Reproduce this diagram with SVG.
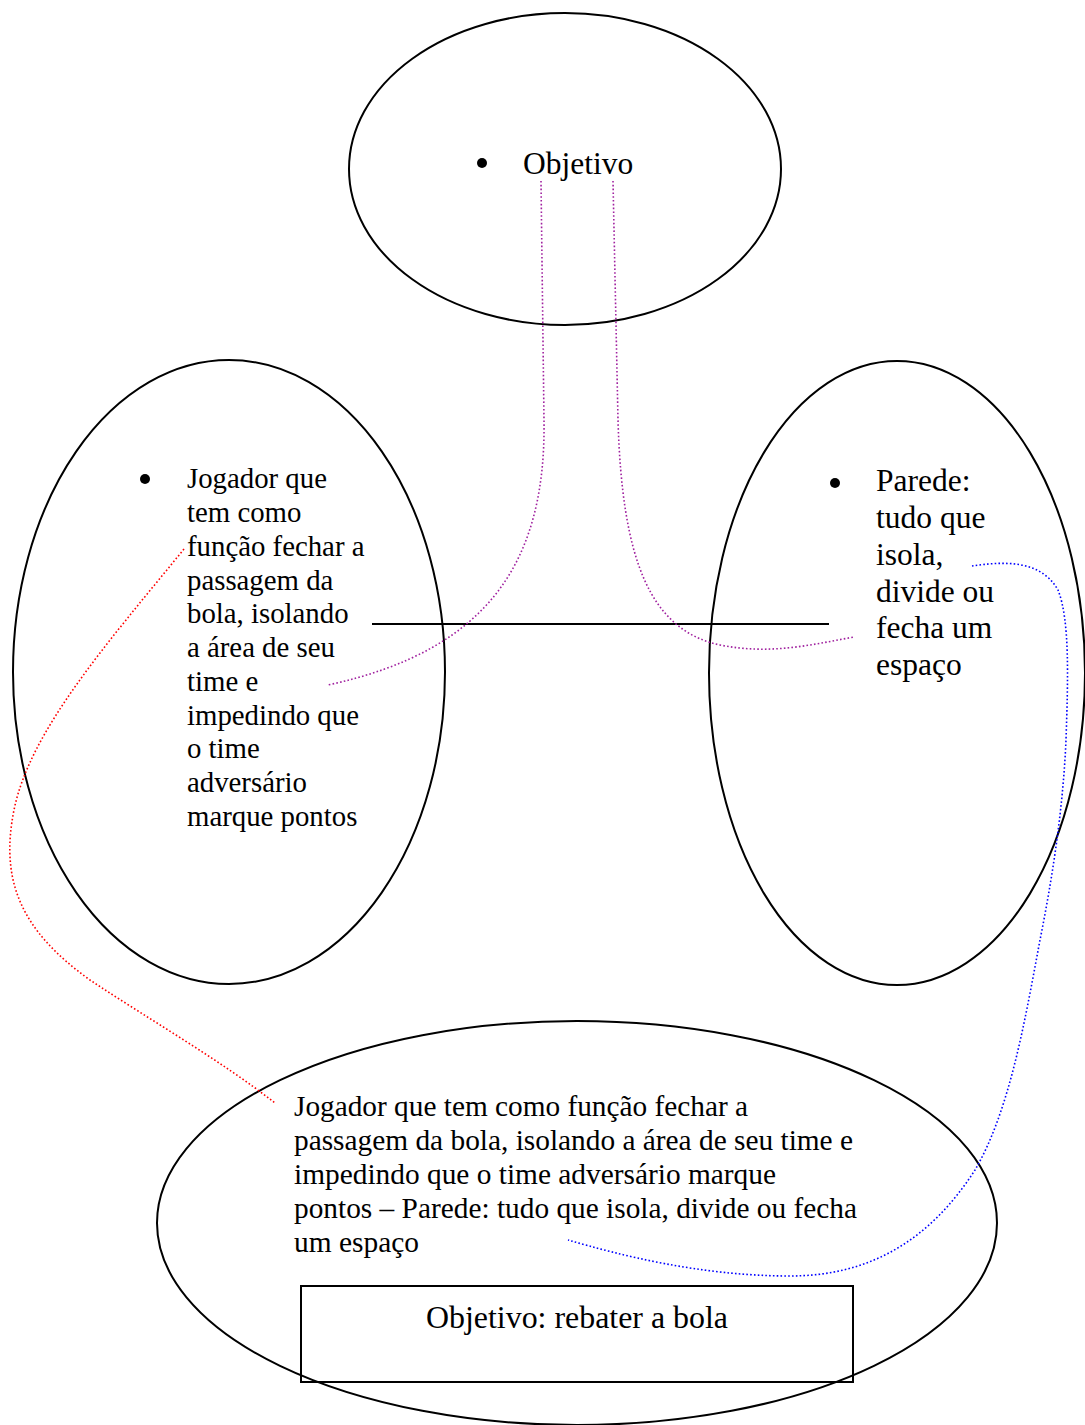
<svg xmlns="http://www.w3.org/2000/svg" width="1085" height="1425" viewBox="0 0 1085 1425">
  <style>
    .shape { fill: none; stroke: #000; stroke-width: 2; }
    .txt { font-family: "Liberation Serif", "Times New Roman", serif; fill: #000; }
    .dot { fill: none; stroke-width: 1.6; stroke-dasharray: 1.6 2.2; }
    .purple { stroke: #A0219F; }
    .red { stroke: #FF0000; }
    .blue { stroke: #0000FF; }
  </style>
  <rect width="1085" height="1425" fill="#fff"/>

  <g id="node-objetivo">
    <ellipse class="shape" cx="565" cy="169" rx="216" ry="156"/>
    <circle cx="482" cy="163" r="5"/>
    <text class="txt" x="523" y="174" font-size="31.5">Objetivo</text>
  </g>

  <g id="node-jogador">
    <ellipse class="shape" cx="229" cy="672" rx="216" ry="312"/>
    <circle cx="145" cy="479" r="5"/>
    <text class="txt" font-size="28.8">
      <tspan x="187" y="488">Jogador que</tspan>
      <tspan x="187" y="522">tem como</tspan>
      <tspan x="187" y="556">função fechar a</tspan>
      <tspan x="187" y="590">passagem da</tspan>
      <tspan x="187" y="623">bola, isolando</tspan>
      <tspan x="187" y="657">a área de seu</tspan>
      <tspan x="187" y="691">time e</tspan>
      <tspan x="187" y="725">impedindo que</tspan>
      <tspan x="187" y="758">o time</tspan>
      <tspan x="187" y="792">adversário</tspan>
      <tspan x="187" y="826">marque pontos</tspan>
    </text>
  </g>

  <g id="node-parede">
    <ellipse class="shape" cx="897" cy="673" rx="188" ry="312"/>
    <circle cx="835" cy="483" r="5"/>
    <text class="txt" font-size="31.5">
      <tspan x="876" y="491">Parede:</tspan>
      <tspan x="876" y="528">tudo que</tspan>
      <tspan x="876" y="565">isola,</tspan>
      <tspan x="876" y="602">divide ou</tspan>
      <tspan x="876" y="638">fecha um</tspan>
      <tspan x="876" y="675">espaço</tspan>
    </text>
  </g>

  <g id="node-definicao">
    <ellipse class="shape" cx="577" cy="1223" rx="420" ry="202"/>
    <text class="txt" font-size="30" lengthAdjust="spacingAndGlyphs">
      <tspan x="294" y="1116" textLength="454" lengthAdjust="spacingAndGlyphs">Jogador que tem como função fechar a</tspan>
      <tspan x="294" y="1150" textLength="559" lengthAdjust="spacingAndGlyphs">passagem da bola, isolando a área de seu time e</tspan>
      <tspan x="294" y="1184" textLength="482" lengthAdjust="spacingAndGlyphs">impedindo que o time adversário marque</tspan>
      <tspan x="294" y="1218" textLength="563" lengthAdjust="spacingAndGlyphs">pontos – Parede: tudo que isola, divide ou fecha</tspan>
      <tspan x="294" y="1252" textLength="125" lengthAdjust="spacingAndGlyphs">um espaço</tspan>
    </text>
  </g>

  <g id="node-meta">
    <rect class="shape" x="301" y="1286" width="552" height="96"/>
    <text class="txt" x="426" y="1328" font-size="32" textLength="302" lengthAdjust="spacingAndGlyphs">Objetivo: rebater a bola</text>
  </g>

  <g id="connectors">
    <line x1="372" y1="624" x2="829" y2="624" stroke="#000" stroke-width="2"/>
    <path class="dot purple" d="M541,181 L544,420 C546,560 490,650 328,685"/>
    <path class="dot purple" d="M613,181 L618,420 C622,560 650,630 720,645 C770,655 810,645 854,637"/>
    <path class="dot red" d="M184,549 C110,640 30,730 14,810 C0,880 20,930 90,980 C150,1020 220,1060 275,1103"/>
    <path class="dot blue" d="M972,566 C1000,562 1040,558 1058,590 C1070,620 1068,680 1066,740 C1063,810 1052,880 1040,940 C1025,1020 1010,1110 975,1170 C930,1240 870,1276 790,1276 C700,1276 620,1255 568,1240"/>
  </g>
</svg>
